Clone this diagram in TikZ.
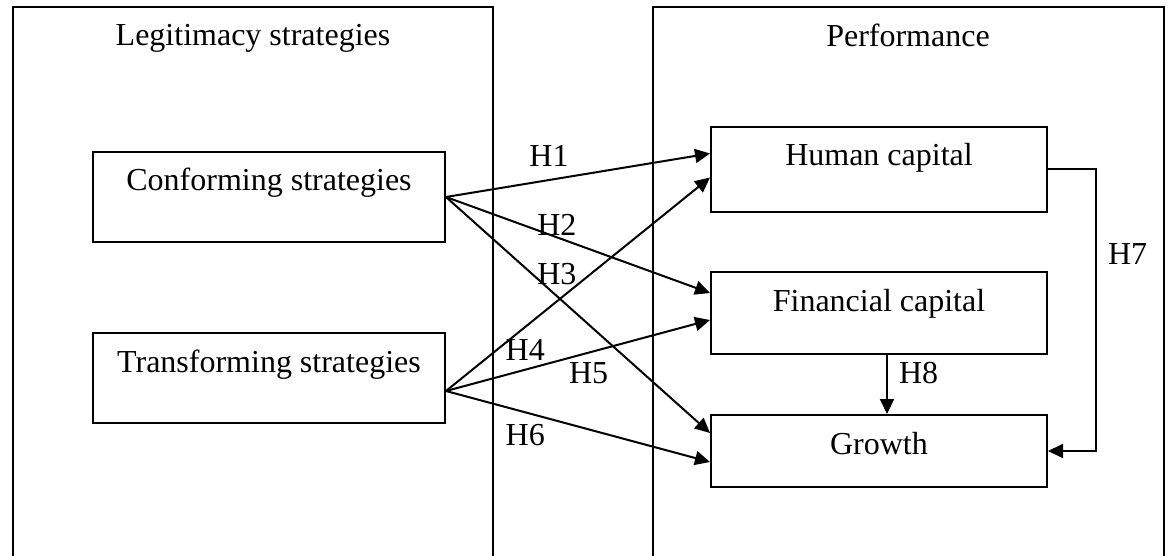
\documentclass[tikz,border=0pt]{standalone}
\usepackage{fontspec}
\setmainfont{Liberation Serif}
\usetikzlibrary{arrows.meta}

\tikzset{
  panel/.style={line width=2pt},
  box/.style={draw, line width=2pt, inner sep=0pt},
  boxtext/.style={anchor=base, yshift=-40pt},
  hyp/.style={inner sep=1pt},
  link/.style={->, line width=2pt}
}

\begin{document}
\begin{tikzpicture}[x=1pt, y=-1pt, font=\fontsize{32}{38}\selectfont,
  >={Triangle[length=15pt, width=14pt]}]
\useasboundingbox (0,0) rectangle (1172,556);

% two panels, open at the bottom
\draw[panel] (13,556) |- (493,7) -- (493,556);
\draw[panel] (653,556) |- (1164,7) -- (1164,556);
\node[anchor=base] (legit) at (253,46) {Legitimacy strategies};
\node[anchor=base] (perf) at (908,47) {Performance};

% strategies
\node[box, minimum width=352, minimum height=90, label={[boxtext]north:Conforming strategies}] (conf) at (269,197) {};
\node[box, minimum width=352, minimum height=90, label={[boxtext]north:Transforming strategies}] (trans) at (269,378) {};

% performance
\node[box, minimum width=336, minimum height=85, label={[boxtext]north:Human capital}] (hum) at (879,169.5) {};
\node[box, minimum width=336, minimum height=82, label={[boxtext]north:Financial capital}] (fin) at (879,313) {};
\node[box, minimum width=336, minimum height=72, label={[boxtext]north:Growth}] (gro) at (879,451) {};

\draw[link] (conf.east) -- ([yshift=16pt]hum.west) node[hyp, pos=.39, above=12pt] {H1};
\draw[link] (conf.east) -- ([yshift=20pt]fin.west) node[hyp, pos=.42, above] {H2};
\draw[link] (conf.east) -- ([yshift=18pt]gro.west) node[hyp, pos=.42, above=9pt] {H3};
\draw[link] ([yshift=-13pt]trans.east) -- ([yshift=-8pt]hum.west) node[hyp, pos=.3, below=10pt] {H4};
\draw[link] ([yshift=-13pt]trans.east) -- ([yshift=-7pt]fin.west) node[hyp, pos=.54, below=8pt] {H5};
\draw[link] ([yshift=-13pt]trans.east) -- ([yshift=-11pt]gro.west) node[hyp, pos=.3, below=10pt] {H6};
\draw[link] (hum.east) -- ++(48,0) |- (gro.east) node[hyp, pos=.15, right=10pt] {H7};
\draw[link] ([xshift=8pt]fin.south) -- ([xshift=8pt]gro.north) node[hyp, pos=.31, right=10pt] {H8};
\end{tikzpicture}
\end{document}
